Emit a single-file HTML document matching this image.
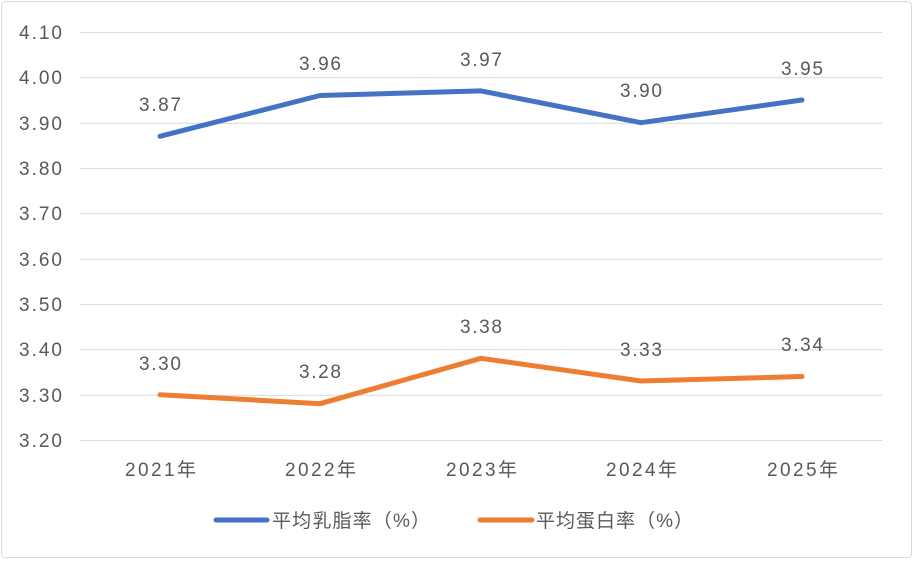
<!DOCTYPE html>
<html><head><meta charset="utf-8"><style>
body{margin:0;background:#fff}
text{font-family:"Liberation Sans","Noto Sans CJK SC",sans-serif;fill:#595959}
</style></head><body>
<svg width="913" height="559" xmlns="http://www.w3.org/2000/svg">
<rect x="1.5" y="1.5" width="910" height="556" rx="4" fill="#fff" stroke="#d9d9d9"/>
<g stroke="#d9d9d9" stroke-width="1">
<line x1="80" x2="882" y1="32.5" y2="32.5"/><line x1="80" x2="882" y1="77.8" y2="77.8"/>
<line x1="80" x2="882" y1="123.2" y2="123.2"/><line x1="80" x2="882" y1="168.5" y2="168.5"/>
<line x1="80" x2="882" y1="213.8" y2="213.8"/><line x1="80" x2="882" y1="259.2" y2="259.2"/>
<line x1="80" x2="882" y1="304.5" y2="304.5"/><line x1="80" x2="882" y1="349.8" y2="349.8"/>
<line x1="80" x2="882" y1="395.2" y2="395.2"/><line x1="80" x2="882" y1="440.5" y2="440.5"/>
</g>
<g font-size="19">
<text x="19" y="39" textLength="43">4.10</text><text x="19" y="84" textLength="43">4.00</text><text x="19" y="130" textLength="43">3.90</text>
<text x="19" y="175" textLength="43">3.80</text><text x="19" y="220" textLength="43">3.70</text><text x="19" y="266" textLength="43">3.60</text>
<text x="19" y="311" textLength="43">3.50</text><text x="19" y="356" textLength="43">3.40</text><text x="19" y="402" textLength="43">3.30</text>
<text x="19" y="447" textLength="43">3.20</text>
</g>
<g font-size="19">
<text x="125" y="476" textLength="71">2021年</text><text x="285" y="476" textLength="71">2022年</text><text x="446" y="476" textLength="71">2023年</text>
<text x="606" y="476" textLength="71">2024年</text><text x="767" y="476" textLength="71">2025年</text>
</g>
<polyline points="160,136.3 320,95.5 481,90.9 641,122.7 802,100" fill="none" stroke="#4472c4" stroke-width="5" stroke-linejoin="round" stroke-linecap="round"/>
<polyline points="160,394.7 320,403.7 481,358.3 641,381 802,376.5" fill="none" stroke="#ed7d31" stroke-width="5" stroke-linejoin="round" stroke-linecap="round"/>
<g font-size="19">
<text x="139" y="111" textLength="42">3.87</text><text x="299" y="70" textLength="42">3.96</text><text x="460" y="66" textLength="42">3.97</text>
<text x="620" y="97" textLength="42">3.90</text><text x="781" y="75" textLength="42">3.95</text>
<text x="139" y="370" textLength="42">3.30</text><text x="299" y="378" textLength="42">3.28</text><text x="460" y="333" textLength="42">3.38</text>
<text x="620" y="356" textLength="42">3.33</text><text x="781" y="351" textLength="42">3.34</text>
</g>
<line x1="216" x2="267" y1="520" y2="520" stroke="#4472c4" stroke-width="5" stroke-linecap="round"/>
<text x="272" y="527" font-size="19" textLength="158">平均乳脂率（%）</text>
<line x1="480" x2="532" y1="520" y2="520" stroke="#ed7d31" stroke-width="5" stroke-linecap="round"/>
<text x="536" y="527" font-size="19" textLength="157">平均蛋白率（%）</text>
</svg>
</body></html>
